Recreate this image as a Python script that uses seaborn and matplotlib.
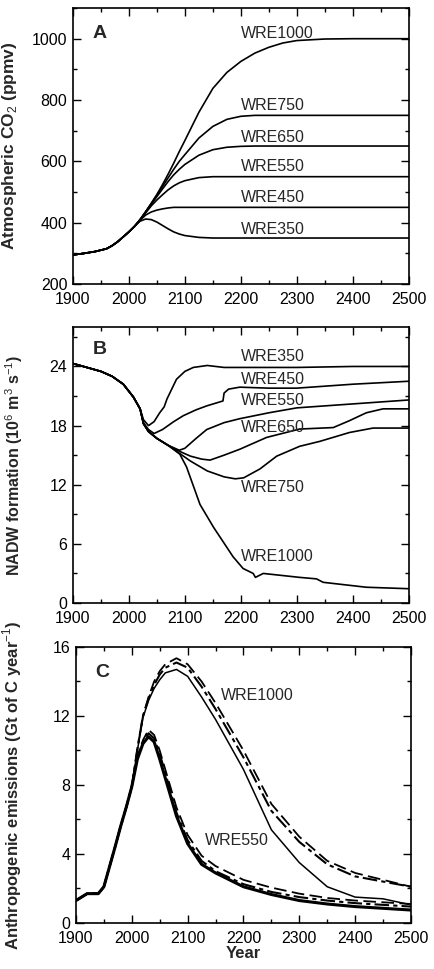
import matplotlib
matplotlib.use("Agg")
import matplotlib.pyplot as plt
import seaborn as sns
from matplotlib.ticker import MultipleLocator

# ---- Panel A: atmospheric CO2 (ppmv)
years_a = [1900, 1920, 1940, 1960, 1970, 1980, 1990, 2000, 2010, 2020, 2030, 2040,
           2050, 2060, 2070, 2080, 2090, 2100, 2125, 2150, 2175, 2200, 2225, 2250,
           2275, 2300, 2350, 2400, 2500]
co2 = {
    "WRE350": [295, 300, 306, 315, 325, 338, 354, 370, 388, 405, 412, 410,
               402, 391, 380, 370, 363, 358, 352, 350, 350, 350, 350, 350,
               350, 350, 350, 350, 350],
    "WRE450": [295, 300, 306, 315, 325, 338, 354, 370, 388, 408, 425, 435,
               441, 445, 448, 450, 450, 450, 450, 450, 450, 450, 450, 450,
               450, 450, 450, 450, 450],
    "WRE550": [295, 300, 306, 315, 325, 338, 354, 370, 388, 410, 432, 455,
               474, 491, 507, 520, 530, 537, 547, 550, 550, 550, 550, 550,
               550, 550, 550, 550, 550],
    "WRE650": [295, 300, 306, 315, 325, 338, 354, 370, 388, 410, 435, 460,
               485, 510, 534, 556, 574, 590, 620, 638, 646, 649, 650, 650,
               650, 650, 650, 650, 650],
    "WRE750": [295, 300, 306, 315, 325, 338, 354, 370, 388, 410, 436, 463,
               490, 518, 546, 574, 600, 622, 676, 714, 737, 747, 750, 750,
               750, 750, 750, 750, 750],
    "WRE1000": [295, 300, 306, 315, 325, 338, 354, 370, 388, 410, 436, 463,
                492, 524, 558, 594, 632, 668, 760, 838, 890, 926, 953, 972,
                986, 994, 999, 1000, 1000],
}
label_y_a = [378, 483, 583, 679, 781, 1018]

# ---- Panel B: NADW formation (Sv)
nadw = {
    "WRE350": ([1900, 1950, 1970, 1990, 2008, 2020, 2026, 2035, 2045, 2055, 2063, 2068,
                2085, 2100, 2115, 2140, 2170, 2200, 2300, 2400, 2500],
               [24.3, 23.5, 23.0, 22.2, 20.9, 19.7, 18.6, 18.0, 18.4, 19.3, 19.9, 20.7,
                22.7, 23.5, 23.9, 24.1, 23.9, 23.9, 23.9, 24.0, 24.0]),
    "WRE450": ([1900, 1950, 1970, 1990, 2008, 2020, 2026, 2035, 2045, 2060, 2080,
                2097, 2120, 2139, 2168, 2170, 2178, 2198, 2250, 2300, 2400, 2500],
               [24.3, 23.5, 23.0, 22.2, 20.9, 19.7, 18.3, 17.6, 17.2, 17.6, 18.4,
                19.0, 19.6, 20.0, 20.5, 21.3, 21.7, 21.9, 21.8, 21.8, 22.2, 22.5]),
    "WRE550": ([1900, 1950, 1970, 1990, 2008, 2020, 2026, 2035, 2050, 2070, 2090,
                2100, 2120, 2139, 2170, 2198, 2250, 2300, 2400, 2500],
               [24.3, 23.5, 23.0, 22.2, 20.9, 19.7, 18.2, 17.4, 16.7, 16.0, 15.5,
                15.7, 16.7, 17.6, 18.3, 18.7, 19.3, 19.8, 20.2, 20.6]),
    "WRE650": ([1900, 1950, 1970, 1990, 2008, 2020, 2026, 2035, 2050, 2070, 2090,
                2110, 2130, 2145, 2170, 2198, 2246, 2305, 2365, 2394, 2424, 2454, 2500],
               [24.3, 23.5, 23.0, 22.2, 20.9, 19.7, 18.2, 17.4, 16.7, 16.0, 15.4,
                14.9, 14.6, 14.5, 15.0, 15.6, 16.8, 17.65, 17.8, 18.5, 19.3, 19.7, 19.7]),
    "WRE750": ([1900, 1950, 1970, 1990, 2008, 2020, 2026, 2035, 2050, 2070, 2090,
                2110, 2140, 2170, 2190, 2205, 2234, 2264, 2305, 2341, 2394, 2436, 2500],
               [24.3, 23.5, 23.0, 22.2, 20.9, 19.7, 18.2, 17.4, 16.7, 16.0, 15.2,
                14.4, 13.4, 12.8, 12.6, 12.7, 13.6, 14.9, 15.9, 16.4, 17.3, 17.75, 17.75]),
    "WRE1000": ([1900, 1950, 1970, 1990, 2008, 2020, 2026, 2035, 2050, 2070, 2091,
                 2103, 2127, 2151, 2186, 2204, 2222, 2226, 2240, 2305, 2335, 2347,
                 2424, 2500],
                [24.3, 23.5, 23.0, 22.2, 20.9, 19.7, 18.2, 17.4, 16.7, 16.0, 15.1,
                 13.8, 10.0, 7.7, 4.7, 3.5, 3.0, 2.6, 3.0, 2.6, 2.45, 2.1,
                 1.6, 1.45]),
}
label_y_b = [24.98, 22.7, 20.5, 17.8, 11.75, 4.7]

# ---- Panel C: anthropogenic emissions (Gt C / yr)
years_c = [1900, 1920, 1940, 1950, 1960, 1970, 1980, 1990, 2000, 2010, 2020, 2030,
           2040, 2050, 2060, 2080, 2100, 2125, 2150, 2200, 2250, 2300, 2350, 2400,
           2450, 2500]
emis_early = [1.3, 1.7, 1.7, 2.1, 3.25, 4.4, 5.6, 6.7, 7.9]
emis = {
    "WRE550 solid": [9.5, 10.4, 10.8, 10.5, 9.5, 8.4, 6.2, 4.6, 3.4, 2.9, 2.1, 1.65,
                     1.3, 1.1, 0.95, 0.85, 0.75],
    "WRE550 dashed": [9.6, 10.6, 11.2, 10.9, 10.0, 8.9, 6.7, 5.1, 3.9, 3.3, 2.5, 2.05,
                      1.7, 1.45, 1.3, 1.2, 1.1],
    "WRE550 dashdot": [9.6, 10.5, 11.0, 10.7, 9.8, 8.7, 6.4, 4.8, 3.6, 3.0, 2.25, 1.8,
                       1.5, 1.3, 1.15, 1.05, 0.95],
    "WRE1000 solid": [10.0, 11.9, 12.9, 13.6, 14.1, 14.5, 14.7, 14.3, 13.1, 11.8, 8.9,
                      5.4, 3.5, 2.1, 1.5, 1.4, 1.05],
    "WRE1000 dashed": [10.1, 12.0, 13.1, 14.0, 14.6, 15.0, 15.35, 15.0, 14.0, 12.75,
                       10.0, 6.9, 5.0, 3.6, 2.9, 2.5, 2.1],
    "WRE1000 dashdot": [10.1, 12.0, 13.0, 13.8, 14.4, 14.8, 15.1, 14.8, 13.7, 12.4,
                        9.6, 6.5, 4.7, 3.4, 2.7, 2.4, 2.1],
}
emis_styles = {
    "WRE550 solid": ("-", 2.2), "WRE550 dashed": ((0, (7, 3)), 1.3),
    "WRE550 dashdot": ((0, (7, 2, 2, 2)), 1.5), "WRE1000 solid": ("-", 1.1),
    "WRE1000 dashed": ((0, (7, 3)), 1.3), "WRE1000 dashdot": ((0, (7, 2, 2, 2)), 1.5),
}

sns.set_style("ticks")
plt.rcParams["font.family"] = ["Liberation Sans", "DejaVu Sans"]
plt.rcParams["mathtext.fontset"] = "custom"
plt.rcParams["mathtext.rm"] = "Liberation Sans"
plt.rcParams["mathtext.bf"] = "Liberation Sans:bold"

fig = plt.figure(figsize=(4.34, 9.69), dpi=100)
ax_a = fig.add_axes([0.168, 0.7069, 0.774, 0.2848])
ax_b = fig.add_axes([0.168, 0.3777, 0.774, 0.2848])
ax_c = fig.add_axes([0.175, 0.0475, 0.772, 0.2848])

for name, vals in co2.items():
    sns.lineplot(x=years_a, y=vals, ax=ax_a, color="black", lw=1.2)
for name, yl in zip(co2, label_y_a):
    ax_a.text(2200, yl, name, fontsize=11.5, va="center", ha="left")

for name, (xs, ys) in nadw.items():
    sns.lineplot(x=xs, y=ys, ax=ax_b, color="black", lw=1.2)
for name, yl in zip(nadw, label_y_b):
    ax_b.text(2200, yl, name, fontsize=11.5, va="center", ha="left")

for name, vals in emis.items():
    ls, lw = emis_styles[name]
    sns.lineplot(x=years_c, y=emis_early + vals, ax=ax_c, color="black",
                 lw=lw, linestyle=ls)
ax_c.text(2159, 13.2, "WRE1000", fontsize=11.5, va="center", ha="left")
ax_c.text(2131, 4.8, "WRE550", fontsize=11.5, va="center", ha="left")

panels = [
    (ax_a, "A", (200, 1100), 200, 100, 1018,
     "Atmospheric CO$_2$ (ppmv)", 12.5, -0.160),
    (ax_b, "B", (0, 28), 6, 3, 25.75,
     "NADW formation (10$^6$ m$^3$ s$^{-1}$)", 11.5, -0.142),
    (ax_c, "C", (0, 16), 4, 2, 14.5,
     "Anthropogenic emissions (Gt of C year$^{-1}$)", 12, -0.155),
]
for ax, letter, ylim, major, minor, ly, ylabel, ylsize, ylx in panels:
    ax.set_xlim(1900, 2500)
    ax.set_ylim(*ylim)
    ax.xaxis.set_major_locator(MultipleLocator(100))
    ax.xaxis.set_minor_locator(MultipleLocator(50))
    ax.yaxis.set_major_locator(MultipleLocator(major))
    ax.yaxis.set_minor_locator(MultipleLocator(minor))
    ax.tick_params(which="both", direction="in", top=True, right=True,
                   labelsize=11.5, width=1, colors="black")
    ax.tick_params(which="major", length=6)
    ax.tick_params(which="minor", length=3)
    ax.tick_params(axis="x", which="major", pad=5.5)
    ax.tick_params(axis="y", which="major", pad=4)
    for sp in ax.spines.values():
        sp.set_linewidth(1.2)
        sp.set_color("black")
    ax.text(1935, ly, letter, fontsize=14, fontweight="bold", va="center")
    ax.set_ylabel(ylabel, fontsize=ylsize, fontweight="bold")
    ax.yaxis.set_label_coords(ylx, 0.5)

ax_c.set_xlabel("Year", fontsize=12, fontweight="bold", labelpad=0)

fig.savefig("out.png", dpi=100)
